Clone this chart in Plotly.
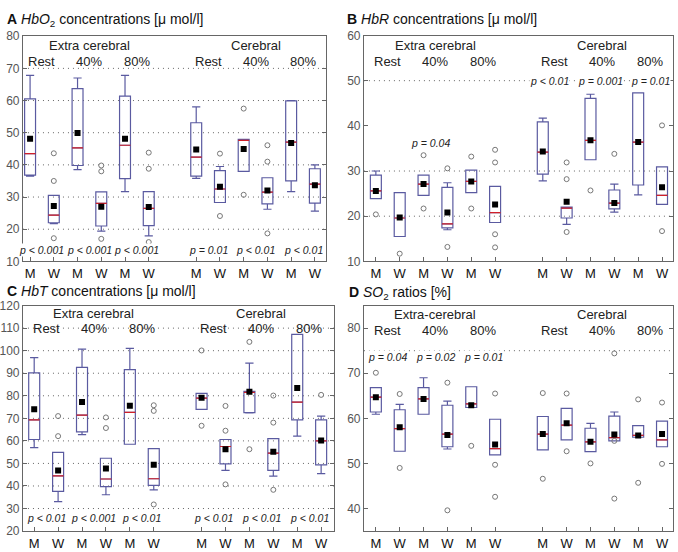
import plotly.graph_objects as go

# ---------------- data ----------------
positions = [1, 2, 3, 4, 5, 6, 8, 9, 10, 11, 12, 13]
tick_labels = ["M", "W", "M", "W", "M", "W", "M", "W", "M", "W", "M", "W"]
group_pos = [1.5, 3.5, 5.5, 8.5, 10.5, 12.5]
group_labels = ["Rest", "40%", "80%", "Rest", "40%", "80%"]

# Panel A: HbO2
A_low = [36.5, 21.7, 38.5, 19.4, 31.7, 17.9, 35.8, 28.3, 38.0, 26.2, 31.7, 25.6]
A_q1 = [36.8, 22.0, 39.8, 21.0, 35.7, 21.1, 36.5, 28.3, 38.0, 27.9, 35.0, 28.1]
A_med = [43.5, 24.4, 45.3, 28.0, 46.1, 26.5, 42.4, 32.5, 47.6, 31.5, 47.1, 34.0]
A_q3 = [60.5, 30.5, 63.7, 31.6, 61.4, 31.7, 53.1, 38.2, 47.9, 36.0, 59.9, 38.8]
A_high = [67.8, 30.5, 67.0, 31.6, 67.8, 31.7, 58.0, 39.5, 47.9, 36.0, 60.0, 40.0]
A_mean = [48.1, 27.2, 49.9, 27.0, 48.1, 26.9, 44.8, 33.2, 44.9, 32.0, 46.8, 33.7]
A_out_x = [2, 2, 2, 4, 4, 4, 6, 6, 6, 9, 9, 10, 10, 11, 11, 11]
A_out_y = [43.6, 35.0, 17.2, 39.8, 38.0, 17.0, 43.8, 38.8, 16.0, 43.5, 24.1, 57.5, 30.7, 46.1, 41.0, 18.7]
A_p = ["p < 0.001", "p < 0.001", "p < 0.001", "p = 0.01", "p < 0.01", "p < 0.01"]

# Panel B: HbR
B_low = [23.9, 15.5, 24.6, 17.0, 25.2, 18.6, 27.8, 18.2, 32.5, 20.9, 24.7, 22.6]
B_q1 = [23.9, 15.5, 24.6, 17.4, 25.2, 18.6, 29.3, 19.6, 32.5, 21.6, 26.9, 22.6]
B_med = [25.6, 19.6, 27.1, 18.3, 27.7, 20.8, 34.2, 21.8, 36.8, 22.9, 36.4, 24.6]
B_q3 = [29.1, 25.2, 29.1, 26.4, 30.2, 26.6, 40.9, 22.0, 46.1, 25.8, 47.3, 30.9]
B_high = [30.0, 25.2, 29.1, 27.4, 30.2, 26.6, 41.7, 22.0, 47.0, 27.1, 47.3, 30.9]
B_mean = [25.6, 19.7, 27.1, 20.8, 27.7, 22.6, 34.3, 23.2, 36.8, 22.9, 36.4, 26.4]
B_out_x = [1, 2, 3, 3, 4, 4, 5, 5, 6, 6, 6, 6, 9, 9, 9, 10, 11, 13, 13]
B_out_y = [20.4, 11.7, 33.5, 21.7, 30.6, 13.2, 33.2, 21.7, 34.7, 31.9, 16.0, 13.1,
           31.9, 28.2, 16.5, 25.7, 33.8, 40.1, 16.7]
B_p = ["p = 0.04", "p < 0.01", "p = 0.001", "p = 0.01"]
B_p_x = [3.3, 8.3, 10.4, 12.5]
B_p_y = [36.2, 50, 50, 50]

# Panel C: HbT
C_low = [57.0, 33.1, 62.8, 36.1, 58.5, 38.3, 74.0, 46.9, 72.4, 44.4, 62.1, 45.5]
C_q1 = [60.6, 37.6, 64.0, 39.7, 58.5, 40.3, 74.0, 49.8, 72.5, 46.9, 69.3, 49.4]
C_med = [69.3, 44.5, 71.4, 43.1, 72.6, 43.2, 79.0, 57.5, 81.5, 54.6, 77.2, 60.0]
C_q3 = [90.2, 54.9, 92.6, 52.3, 91.6, 56.6, 81.1, 60.6, 82.0, 61.0, 107.2, 69.3]
C_high = [96.9, 54.9, 100.7, 52.3, 101.0, 56.6, 81.1, 60.6, 94.5, 61.0, 107.2, 71.0]
C_mean = [74.0, 46.9, 77.2, 47.8, 75.6, 49.4, 79.1, 56.3, 81.8, 55.2, 83.4, 60.2]
C_out_x = [2, 2, 4, 4, 6, 6, 6, 8, 8, 9, 9, 9, 10, 10, 11, 11, 11, 13]
C_out_y = [71.0, 62.1, 70.4, 65.7, 75.8, 73.3, 31.8, 100.1, 66.7, 75.5, 64.5, 40.7,
           103.9, 56.3, 80.1, 68.1, 38.3, 80.4]
C_p = ["p < 0.01", "p < 0.001", "p < 0.01", "p < 0.01", "p < 0.01", "p < 0.01"]

# Panel D: SO2
D_low = [60.9, 52.7, 60.9, 53.2, 62.4, 51.9, 53.0, 55.2, 52.6, 55.0, 55.8, 53.7]
D_q1 = [61.4, 52.7, 60.9, 53.7, 62.4, 51.9, 53.0, 55.2, 52.6, 55.0, 55.8, 53.7]
D_med = [64.7, 57.7, 64.3, 56.5, 63.2, 53.3, 56.5, 58.5, 54.8, 55.7, 56.2, 55.2]
D_q3 = [66.8, 61.9, 66.8, 62.9, 67.0, 59.8, 60.4, 62.2, 57.8, 60.5, 58.4, 59.4]
D_high = [66.8, 63.1, 69.0, 63.8, 67.0, 59.8, 60.4, 62.2, 58.9, 61.4, 58.4, 59.4]
D_mean = [64.7, 58.0, 64.3, 56.3, 62.9, 54.2, 56.5, 58.9, 54.8, 56.4, 56.2, 56.5]
D_out_x = [1, 2, 2, 4, 4, 5, 6, 6, 6, 8, 8, 9, 9, 10, 11, 11, 11, 12, 12, 13, 13]
D_out_y = [70.1, 65.4, 49.0, 67.9, 39.6, 53.9, 65.5, 49.7, 42.6, 65.6, 46.6, 65.5, 52.7,
           50.0, 74.4, 55.0, 42.2, 64.2, 45.7, 63.5, 49.9]
D_p = ["p = 0.04", "p = 0.02", "p = 0.01"]

panels = [
    dict(low=A_low, q1=A_q1, med=A_med, q3=A_q3, high=A_high, mean=A_mean,
         ox=A_out_x, oy=A_out_y, yr=[10, 80], dtick=10, xr=[0.7, 13.46],
         grid=[20, 30, 40, 50, 60, 70],
         title="<b>A</b> <i>HbO</i><sub>2</sub> concentrations [μ mol/l]",
         head1="Extra cerebral", head_y=(77.0, 72.2),
         p=A_p, p_x=group_pos, p_y=[13.5] * 6),
    dict(low=B_low, q1=B_q1, med=B_med, q3=B_q3, high=B_high, mean=B_mean,
         ox=B_out_x, oy=B_out_y, yr=[10, 60], dtick=10, xr=[0.5, 13.46],
         grid=[20, 30, 50],
         title="<b>B</b> <i>HbR</i> concentrations [μ mol/l]",
         head1="Extra cerebral", head_y=(57.8, 54.3),
         p=B_p, p_x=B_p_x, p_y=B_p_y),
    dict(low=C_low, q1=C_q1, med=C_med, q3=C_q3, high=C_high, mean=C_mean,
         ox=C_out_x, oy=C_out_y, yr=[20, 120], dtick=10, xr=[0.53, 13.54],
         grid=[30, 40, 50, 60, 70, 80, 90, 100, 110],
         title="<b>C</b> <i>HbT</i> concentrations [μ mol/l]",
         head1="Extra cerebral", head_y=(116.6, 109.8),
         p=C_p, p_x=group_pos, p_y=[26.0] * 6),
    dict(low=D_low, q1=D_q1, med=D_med, q3=D_q3, high=D_high, mean=D_mean,
         ox=D_out_x, oy=D_out_y, yr=[35, 85], dtick=10,
         xr=[0.5, 13.46], grid=[75],
         title="<b>D</b> <i>SO</i><sub>2</sub> ratios [%]",
         head1="Extra-cerebral", head_y=(83.1, 79.4),
         p=D_p, p_x=group_pos[:3], p_y=[73.6] * 3),
]

# ---------------- layout geometry ----------------
xdoms = [[0.031, 0.479], [0.5354, 0.9926], [0.031, 0.4912], [0.5354, 0.9926]]
ydoms = [[0.5272, 0.9457], [0.5272, 0.947], [0.0259, 0.445], [0.0259, 0.445]]
title_pos = [(0.004, 0.997), (0.507, 0.997), (0.004, 0.490), (0.511, 0.488)]

FONT = "Liberation Sans, Arial, sans-serif"
BOX_COLOR = "#5a5aa0"

fig = go.Figure()
layout = dict(width=678, height=552, margin=dict(l=0, r=0, t=0, b=0),
              paper_bgcolor="white", plot_bgcolor="white", showlegend=False,
              font=dict(family=FONT, color="#222"))
annotations = []
shapes = []

for i, p in enumerate(panels):
    n = "" if i == 0 else str(i + 1)
    xa, ya = "x" + n, "y" + n
    fig.add_trace(go.Box(
        x=positions, q1=p["q1"], median=p["med"], q3=p["q3"],
        lowerfence=p["low"], upperfence=p["high"],
        width=0.46, whiskerwidth=0.75, boxpoints=False,
        line=dict(color=BOX_COLOR, width=1.2), fillcolor="rgba(255,255,255,0)",
        xaxis=xa, yaxis=ya, hoverinfo="skip"))
    # red median segments
    mx, my = [], []
    for xp, m in zip(positions, p["med"]):
        mx += [xp - 0.23, xp + 0.23, None]
        my += [m, m, None]
    fig.add_trace(go.Scatter(x=mx, y=my, mode="lines",
                             line=dict(color="#d0202a", width=1.2),
                             xaxis=xa, yaxis=ya, hoverinfo="skip"))
    # outliers
    fig.add_trace(go.Scatter(x=p["ox"], y=p["oy"], mode="markers",
                             marker=dict(symbol="circle-open", size=5,
                                         color="#777", line=dict(width=1)),
                             xaxis=xa, yaxis=ya, hoverinfo="skip"))
    # means
    fig.add_trace(go.Scatter(x=positions, y=p["mean"], mode="markers",
                             marker=dict(symbol="square", size=6, color="black"),
                             xaxis=xa, yaxis=ya, hoverinfo="skip"))

    layout["xaxis" + n] = dict(domain=xdoms[i], range=p["xr"], anchor=ya,
                               tickmode="array", tickvals=positions, ticktext=tick_labels,
                               showgrid=False, zeroline=False, showline=True, mirror=True,
                               linecolor="#666", linewidth=1, ticks="inside", ticklen=4,
                               tickcolor="#666", tickfont=dict(family=FONT, size=13, color="#111"))
    layout["yaxis" + n] = dict(domain=ydoms[i], range=p["yr"], dtick=p["dtick"], anchor=xa,
                               showgrid=False, zeroline=False, showline=True, mirror="ticks",
                               linecolor="#666", linewidth=1, ticks="inside", ticklen=4,
                               tickcolor="#666", tickfont=dict(family=FONT, size=12, color="#555"))
    for g in p["grid"]:
        shapes.append(dict(type="line", xref=xa + " domain", yref=ya, x0=0, x1=1, y0=g, y1=g,
                           line=dict(color="#666", width=1, dash="1px,4px"), layer="below"))
    # headers
    annotations.append(dict(x=3.5, y=p["head_y"][0], xref=xa, yref=ya, text=p["head1"],
                            showarrow=False, font=dict(family=FONT, size=13, color="#222")))
    annotations.append(dict(x=10.5, y=p["head_y"][0], xref=xa, yref=ya, text="Cerebral",
                            showarrow=False, font=dict(family=FONT, size=13, color="#222")))
    for gx, gl in zip(group_pos, group_labels):
        annotations.append(dict(x=gx, y=p["head_y"][1], xref=xa, yref=ya, text=gl,
                                showarrow=False, font=dict(family=FONT, size=13, color="#222")))
    for t, tx, ty in zip(p["p"], p["p_x"], p["p_y"]):
        annotations.append(dict(x=tx, y=ty, xref=xa, yref=ya, text="<i>" + t + "</i>",
                                showarrow=False, bgcolor="white", borderpad=0,
                                font=dict(family=FONT, size=10.5, color="#222")))
    tx, ty = title_pos[i]
    annotations.append(dict(x=tx, y=ty, xref="paper", yref="paper", xanchor="left",
                            yanchor="top", text=p["title"], showarrow=False,
                            font=dict(family=FONT, size=14, color="#111")))

layout["annotations"] = annotations
layout["shapes"] = shapes
fig.update_layout(**layout)
fig.write_html("out.html")
